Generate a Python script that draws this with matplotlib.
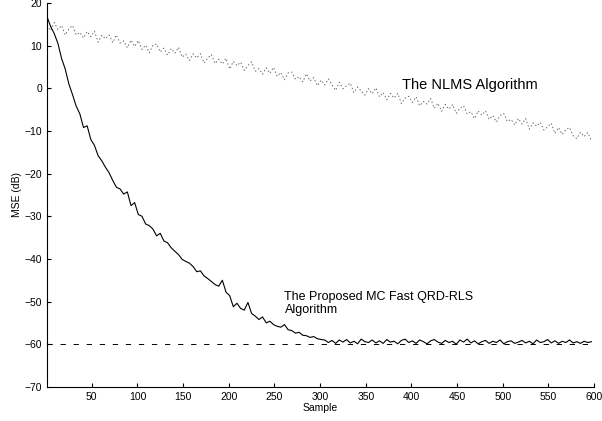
import numpy as np
import matplotlib
matplotlib.use('Agg')
import matplotlib.pyplot as plt

# MSE curves, one value every 4 samples
step = 4
proposed_db = [
    16.8, 14.5, 12.8, 10.5, 7.0, 4.5, 1.0, -1.5, -4.2, -6.0,
    -9.2, -8.8, -12.0, -13.4, -15.8, -17.0, -18.5, -19.8, -21.6, -23.2,
    -23.6, -24.8, -24.3, -27.5, -26.8, -29.6, -30.0, -31.8, -32.2, -33.0,
    -34.6, -34.0, -35.8, -36.2, -37.4, -38.2, -39.0, -40.1, -40.6, -41.0,
    -41.8, -43.0, -42.8, -44.0, -44.6, -45.3, -46.0, -46.4, -45.0, -47.8,
    -48.6, -51.2, -50.4, -51.6, -52.0, -50.2, -52.8, -53.4, -54.2, -53.6,
    -55.0, -54.6, -55.4, -55.8, -56.0, -55.4, -56.6, -56.8, -57.4, -57.2,
    -57.9, -58.0, -58.4, -58.2, -58.7, -58.9, -59.0,
    -59.6, -59.1, -59.8, -59.0, -59.5, -58.9, -59.7, -59.3, -59.9, -58.8,
    -59.4, -59.6, -59.0, -59.7, -59.2, -59.8, -58.9, -59.5, -59.3, -59.9,
    -59.1, -58.8, -59.6, -59.2, -59.8, -59.0, -59.4, -59.9, -59.2, -58.9,
    -59.5, -59.8, -59.1, -59.6, -59.3, -60.0, -59.0, -59.5, -58.8, -59.7,
    -59.2, -59.9, -59.4, -59.1, -59.8, -59.3, -59.6, -59.0, -59.9, -59.4,
    -59.2, -59.8, -59.5, -59.1, -59.7, -59.3, -59.9, -59.0, -59.6, -59.4,
    -58.9, -59.7, -59.2, -59.8, -59.3, -59.6, -59.0, -59.7, -59.4, -59.8,
    -59.3, -59.6, -59.4,
]
nlms_db = [
    14.8, 13.5, 15.4, 13.8, 14.7, 12.5, 13.9, 14.7, 12.5, 13.1,
    11.8, 13.3, 12.1, 13.4, 10.8, 12.4, 11.6, 12.5, 10.7, 12.5,
    10.6, 11.1, 9.5, 11.3, 9.8, 11.2, 9.1, 10.1, 8.3, 10.1,
    10.4, 8.5, 9.4, 7.8, 9.3, 8.2, 9.6, 7.3, 8.0, 6.5,
    8.1, 7.1, 8.1, 5.9, 7.1, 7.9, 5.8, 6.8, 5.7, 7.0,
    4.5, 6.3, 5.3, 6.1, 4.2, 5.3, 6.2, 4.0, 4.6, 3.3,
    4.8, 3.5, 4.9, 2.8, 3.7, 2.0, 3.6, 3.8, 2.1, 2.7,
    1.5, 3.4, 1.7, 2.5, 0.6, 1.9, 0.8, 2.2, 0.8, -0.5,
    1.4, -0.1, 0.6, 1.2, -1.0, 0.3, -0.6, -1.6, -0.1, -1.3,
    0.1, -2.0, -1.0, -2.7, -1.2, -2.3, -1.2, -3.6, -2.3, -1.9,
    -3.3, -2.0, -4.1, -3.1, -3.7, -2.4, -4.7, -3.5, -5.4, -3.8,
    -4.9, -3.8, -5.9, -4.7, -4.1, -6.0, -5.5, -7.1, -5.3, -6.3,
    -5.3, -7.3, -6.4, -7.9, -6.4, -5.9, -7.8, -7.3, -8.6, -7.1,
    -8.4, -7.1, -9.6, -8.1, -8.9, -8.0, -9.8, -9.0, -8.2, -10.6,
    -9.2, -10.8, -9.7, -9.2, -11.1, -11.8, -10.3, -11.3, -10.4, -12.3,
]
noise_floor = -60
xticks = [50, 100, 150, 200, 250, 300, 350, 400, 450, 500, 550, 600]
yticks = [-70, -60, -50, -40, -30, -20, -10, 0, 10, 20]

n_prop = 1 + step * np.arange(len(proposed_db))
n_nlms = 1 + step * np.arange(len(nlms_db))

plt.rcParams['font.family'] = ['Liberation Sans', 'DejaVu Sans']
plt.rcParams['lines.scale_dashes'] = False

fig = plt.figure(figsize=(6.02, 4.21), dpi=100)
ax = fig.add_axes([0.078, 0.081, 0.909, 0.912])

ax.plot(n_nlms, nlms_db, linestyle=':', color='0.4', lw=0.7)
ax.plot(n_prop, proposed_db, color='k', lw=0.8)
ax.plot([1, 600], [noise_floor, noise_floor], color='k', lw=0.7,
        dashes=(3.8, 5.6), dash_capstyle='butt')

ax.text(390, 0.8, 'The NLMS Algorithm', fontsize=10.5, va='center', ha='left')
ax.text(261, -50.5, 'The Proposed MC Fast QRD-RLS\nAlgorithm', fontsize=9,
        va='center', ha='left', linespacing=1.1)

ax.set_xlim(1, 600)
ax.set_ylim(-70, 20)
ax.set_xticks(xticks)
ax.set_yticks(yticks)
ax.set_yticklabels([str(t).replace('-', '\u2212') for t in yticks])
ax.tick_params(direction='in', length=3, labelsize=7.5, width=0.8)
for s in ['top', 'right']:
    ax.spines[s].set_visible(False)
for s in ['left', 'bottom']:
    ax.spines[s].set_linewidth(0.8)
ax.set_xlabel('Sample', fontsize=7.5, labelpad=1)
ax.set_ylabel('MSE (dB)', fontsize=7.5, labelpad=2)

fig.savefig('out.png', dpi=100)
